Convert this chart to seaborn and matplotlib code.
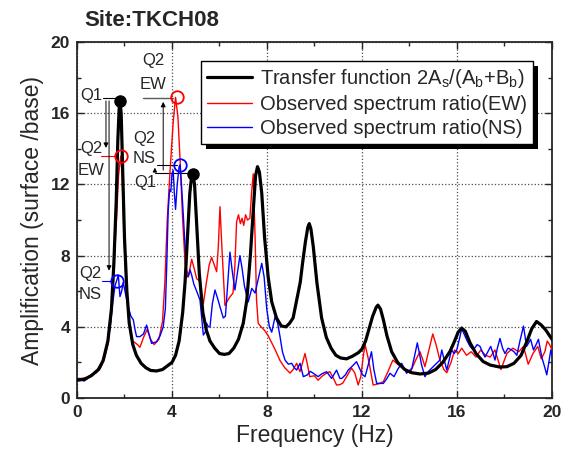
import numpy as np
import pandas as pd
import matplotlib
matplotlib.use('Agg')
import matplotlib.pyplot as plt
import seaborn as sns
from matplotlib.ticker import MultipleLocator
from matplotlib.patches import Rectangle

# transfer function 2As/(Ab+Bb)
tf_freq = [0.0, 0.3, 0.6, 0.9, 1.1, 1.3, 1.45, 1.55, 1.65, 1.72, 1.78, 1.81, 1.86, 1.92, 2.0, 2.1,
           2.2, 2.35, 2.5, 2.7, 2.9, 3.1, 3.35, 3.6, 3.8, 4.0, 4.15, 4.3, 4.45, 4.55, 4.65, 4.75,
           4.83, 4.88, 4.95, 5.05, 5.15, 5.3, 5.45, 5.6, 5.8, 6.0, 6.2, 6.4, 6.6, 6.8, 7.0, 7.15,
           7.3, 7.42, 7.52, 7.6, 7.68, 7.78, 7.9, 8.05, 8.2, 8.4, 8.6, 8.8, 8.95, 9.1, 9.25, 9.4,
           9.5, 9.62, 9.72, 9.78, 9.85, 9.95, 10.1, 10.3, 10.5, 10.7, 10.9, 11.1, 11.35, 11.6,
           11.85, 12.0, 12.15, 12.3, 12.45, 12.6, 12.67, 12.78, 12.9, 13.05, 13.25, 13.5, 13.8,
           14.1, 14.44, 14.8, 15.1, 15.4, 15.7, 15.9, 16.05, 16.2, 16.35, 16.55, 16.8, 17.1, 17.4,
           17.8, 18.1, 18.4, 18.7, 18.95, 19.15, 19.35, 19.55, 19.75, 20.0]
tf_amp = [1.0, 1.05, 1.25, 1.6, 2.1, 3.2, 5.0, 7.5, 11.0, 14.5, 16.4, 16.7, 16.0, 13.0, 9.0, 6.0,
          4.2, 3.0, 2.4, 1.95, 1.7, 1.55, 1.52, 1.6, 1.8, 2.0, 2.4, 3.2, 4.8, 6.5, 9.0, 11.5,
          12.5, 12.6, 12.0, 9.5, 7.0, 4.8, 3.8, 3.2, 2.8, 2.5, 2.45, 2.5, 2.8, 3.3, 4.2, 5.5,
          8.0, 10.5, 12.5, 13.0, 12.7, 11.5, 9.0, 6.8, 5.4, 4.5, 4.05, 4.0, 4.2, 4.5, 5.5, 6.5,
          7.6, 8.8, 9.6, 9.8, 9.5, 8.5, 6.5, 4.5, 3.4, 2.8, 2.4, 2.25, 2.2, 2.35,
          2.55, 2.75, 3.2, 3.9, 4.6, 5.1, 5.22, 5.0, 4.4, 3.5, 2.6, 2.0, 1.6,
          1.42, 1.35, 1.4, 1.6, 2.0, 2.6, 3.2, 3.7, 3.93, 3.75, 3.1, 2.5, 2.05, 1.85,
          1.74, 1.76, 1.95, 2.4, 3.2, 3.9, 4.3, 4.1, 3.8, 3.3]

# observed spectrum ratio EW
ew_freq = [0.0, 0.2, 0.4, 0.6, 0.8, 1.0, 1.15, 1.3, 1.42, 1.53, 1.62, 1.67, 1.75, 1.84, 1.9, 1.97,
           2.05, 2.16, 2.3, 2.45, 2.55, 2.65, 2.8, 2.95, 3.1, 3.25, 3.45, 3.6, 3.7, 3.8, 3.92, 4.05,
           4.15, 4.25, 4.34, 4.45, 4.55, 4.69, 4.83, 4.95, 5.04, 5.15, 5.32, 5.45, 5.57, 5.67, 5.8,
           5.88, 5.95, 6.02, 6.1, 6.18, 6.23, 6.35, 6.45, 6.57, 6.65, 6.72, 6.8, 6.88, 6.95, 7.02,
           7.1, 7.18, 7.28, 7.35, 7.42, 7.5, 7.56, 7.63, 7.75, 7.9, 8.05, 8.2, 8.35, 8.55, 8.75,
           8.97, 9.1, 9.25, 9.39, 9.5, 9.6, 9.7, 9.8, 10.0, 10.15, 10.3, 10.45, 10.65, 10.8, 10.93,
           11.07, 11.2, 11.35, 11.56, 11.7, 11.84, 11.95, 12.05, 12.13, 12.25, 12.33, 12.47, 12.7,
           12.9, 13.1, 13.3, 13.5, 13.67, 13.85, 14.02, 14.25, 14.44, 14.55, 14.65, 14.8, 14.98,
           15.12, 15.28, 15.45, 15.57, 15.75, 15.9, 16.05, 16.2, 16.4, 16.6, 16.8, 17.0, 17.2,
           17.4, 17.6, 17.85, 18.1, 18.35, 18.6, 18.8, 19.0, 19.2, 19.4, 19.55, 19.7, 19.8, 19.9,
           20.0]
ew_amp = [1.1, 1.1, 1.15, 1.3, 1.4, 1.7, 2.2, 3.0, 4.3, 6.4, 9.0, 10.2, 12.5, 13.6, 12.6, 9.5,
          6.8, 4.6, 3.25, 3.1, 3.0, 2.85, 3.4, 3.85, 3.3, 3.0, 3.3, 4.3, 6.5, 10.0, 12.8, 15.5,
          16.9, 15.8, 13.4, 10.0, 7.6, 6.8, 7.8, 7.2, 6.7, 6.6, 5.3, 6.5, 7.5, 7.9, 7.4,
          7.1, 8.5, 10.75, 8.5, 6.5, 5.2, 5.5, 5.7, 5.9, 7.5, 9.9, 10.3, 9.8, 10.1, 9.7,
          10.3, 10.0, 10.1, 11.5, 12.6, 9.0, 5.5, 4.2, 4.0, 3.8, 3.5, 3.1, 2.7, 2.1, 1.7,
          1.4, 1.6, 1.95, 1.48, 2.0, 2.5, 1.9, 1.2, 1.25, 1.0, 1.2, 1.35, 1.48, 1.1, 0.73,
          0.75, 0.85, 1.2, 1.68, 1.4, 0.73, 1.2, 2.3, 3.0, 2.3, 1.76, 0.73, 0.8,
          0.92, 1.5, 2.13, 1.9, 1.76, 1.6, 1.4, 2.1, 2.6, 2.2, 1.76, 2.6, 3.6,
          3.0, 2.13, 1.6, 1.42, 2.0, 2.7, 2.5, 2.8, 2.4, 2.6, 2.3, 2.7, 2.4,
          2.3, 2.7, 1.6, 2.5, 2.8, 2.6, 2.9, 1.9, 2.5, 2.9, 2.2, 2.6, 3.2, 3.0,
          2.7]

# observed spectrum ratio NS
ns_freq = [0.0, 0.15, 0.3, 0.45, 0.6, 0.8, 0.95, 1.1, 1.25, 1.4, 1.5, 1.6, 1.67, 1.74, 1.81, 1.88,
           1.95, 2.05, 2.16, 2.27, 2.37, 2.45, 2.51, 2.65, 2.8, 2.93, 3.03, 3.14, 3.35, 3.5, 3.63,
           3.72, 3.78, 3.84, 3.9, 3.95, 4.0, 4.05, 4.1, 4.15, 4.22, 4.3, 4.34, 4.4, 4.48, 4.55,
           4.62, 4.7, 4.76, 4.83, 4.92, 5.04, 5.18, 5.25, 5.32, 5.4, 5.46, 5.53, 5.6, 5.7, 5.81,
           5.92, 6.02, 6.16, 6.25, 6.35, 6.44, 6.55, 6.65, 6.75, 6.86, 6.95, 7.05, 7.21, 7.36,
           7.5, 7.65, 7.78, 7.88, 7.99, 8.1, 8.2, 8.34, 8.45, 8.55, 8.65, 8.76, 8.9, 9.04, 9.15,
           9.25, 9.39, 9.53, 9.7, 9.82, 9.95, 10.15, 10.3, 10.51, 10.72, 10.93, 11.07, 11.15, 11.3,
           11.42, 11.6, 11.77, 11.92, 12.03, 12.13, 12.25, 12.4, 12.5, 12.62, 12.9, 13.05, 13.18,
           13.35, 13.5, 13.67, 13.88, 14.1, 14.22, 14.33, 14.42, 14.51, 14.65, 14.8, 14.93, 15.1,
           15.28, 15.36, 15.45, 15.57, 15.68, 15.77, 15.88, 15.99, 16.1, 16.2, 16.3, 16.41, 16.55,
           16.69, 16.85, 16.97, 17.1, 17.18, 17.3, 17.42, 17.52, 17.6, 17.7, 17.81, 17.92, 18.02,
           18.15, 18.3, 18.4, 18.52, 18.65, 18.8, 18.93, 19.02, 19.1, 19.22, 19.33, 19.43, 19.57,
           19.68, 19.78, 19.88, 19.95, 20.0]
ns_amp = [1.1, 1.05, 0.95, 1.1, 1.3, 1.45, 1.6, 2.1, 2.9, 4.0, 5.3, 6.3, 6.6, 6.9, 5.7, 6.0,
          6.5, 5.8, 5.1, 4.6, 4.4, 3.8, 3.45, 3.45, 3.6, 4.1, 3.6, 3.07, 3.16, 3.5, 4.0,
          5.0, 7.5, 10.5, 11.7, 11.6, 12.6, 12.8, 11.5, 10.6, 12.0, 13.0, 13.1, 12.0, 10.2, 8.5,
          6.8, 6.9, 7.2, 6.9, 6.4, 6.0, 5.5, 4.5, 3.54, 3.7, 4.2, 4.0, 4.0, 5.3, 6.07,
          5.6, 5.13, 4.5, 4.6, 6.5, 8.2, 7.0, 6.07, 7.0, 8.0, 7.3, 6.3, 5.4, 6.16,
          5.9, 6.8, 7.57, 6.8, 5.0, 4.0, 3.7, 4.57, 4.2, 3.44, 2.6, 2.13, 1.9, 1.95, 1.7,
          1.57, 1.95, 1.2, 1.3, 1.5, 1.39, 1.2, 1.35, 1.48, 1.1, 1.57, 1.1, 1.1, 1.3,
          1.57, 1.8, 2.04, 1.6, 1.3, 1.2, 1.8, 2.6, 1.6, 0.82, 0.82, 1.1, 1.39,
          1.2, 1.6, 1.95, 1.39, 1.67, 2.4, 3.1, 2.5, 1.85, 1.2, 1.5, 1.67, 1.9,
          2.13, 2.7, 2.2, 1.57, 2.2, 2.7, 2.5, 2.7, 3.3, 3.9, 3.6, 3.26, 2.9,
          2.7, 3.0, 2.9, 2.5, 2.3, 2.6, 2.9, 2.5, 2.13, 2.8, 3.35, 2.8, 2.5,
          2.8, 2.7, 2.6, 2.4, 3.2, 4.04, 2.9, 3.1, 3.3, 2.7, 3.0, 3.3, 2.3,
          1.8, 1.3, 2.1, 2.7, 2.4]

# peak markers (Q1 = transfer function, Q2 = observed)
q1_freq = [1.81, 4.88]
q1_amp = [16.7, 12.6]
q2_ew_freq = [1.84, 4.2]
q2_ew_amp = [13.6, 16.9]
q2_ns_freq = [1.67, 4.34]
q2_ns_amp = [6.6, 13.1]

sns.set_style('ticks')
plt.rcParams['font.family'] = ['Liberation Sans', 'DejaVu Sans']
plt.rcParams['mathtext.fontset'] = 'custom'
plt.rcParams['mathtext.rm'] = 'Liberation Sans'
plt.rcParams['mathtext.it'] = 'Liberation Sans'

fig = plt.figure(figsize = (5.72, 4.58), dpi = 100)
ax = fig.add_axes([0.1346, 0.131, 0.8304, 0.777])

tf = pd.DataFrame({'f': tf_freq, 'a': tf_amp})
ew = pd.DataFrame({'f': ew_freq, 'a': ew_amp})
ns = pd.DataFrame({'f': ns_freq, 'a': ns_amp})

sns.lineplot(data = tf, x = 'f', y = 'a', ax = ax, color = 'black', lw = 2.3, sort = False,
             label = r'Transfer function 2A$_\mathregular{s}$/(A$_\mathregular{b}$+B$_\mathregular{b}$)', zorder = 5)
sns.lineplot(data = ew, x = 'f', y = 'a', ax = ax, color = 'red', lw = 1.0, sort = False,
             label = 'Observed spectrum ratio(EW)', zorder = 3)
sns.lineplot(data = ns, x = 'f', y = 'a', ax = ax, color = 'blue', lw = 1.0, sort = False,
             label = 'Observed spectrum ratio(NS)', zorder = 4)

ax.plot(q1_freq, q1_amp, 'o', color = 'black', ms = 8, zorder = 6)
ax.plot(q2_ew_freq, q2_ew_amp, 'o', mfc = 'none', mec = 'red', mew = 1.3, ms = 9, zorder = 6)
ax.plot(q2_ns_freq, q2_ns_amp, 'o', mfc = 'none', mec = 'blue', mew = 1.3, ms = 9, zorder = 6)

# annotations around the first peak
fs = 12
ax.text(0.59, 17.0, 'Q1', fontsize = fs, ha = 'center', va = 'center')
ax.plot([1.1, 1.81], [16.85, 16.85], color = 'black', lw = 0.8)
ax.annotate('', xy = (1.22, 13.9), xytext = (1.22, 16.85),
            arrowprops = dict(arrowstyle = '-|>', color = 'black', lw = 0.7, mutation_scale = 7))
ax.annotate('', xy = (1.35, 7.0), xytext = (1.35, 16.85),
            arrowprops = dict(arrowstyle = '-|>', color = 'black', lw = 0.7, mutation_scale = 7))
ax.text(0.59, 14.05, 'Q2', fontsize = fs, ha = 'center', va = 'center')
ax.text(0.59, 12.8, 'EW', fontsize = fs, ha = 'center', va = 'center')
ax.plot([1.0, 1.7], [13.6, 13.6], color = 'red', lw = 0.8)
ax.text(0.55, 7.0, 'Q2', fontsize = fs, ha = 'center', va = 'center')
ax.text(0.55, 5.8, 'NS', fontsize = fs, ha = 'center', va = 'center')
ax.plot([1.05, 1.5], [6.6, 6.6], color = 'blue', lw = 0.8)

# annotations around the second peak
ax.text(3.22, 18.95, 'Q2', fontsize = fs, ha = 'center', va = 'center')
ax.text(3.22, 17.6, 'EW', fontsize = fs, ha = 'center', va = 'center')
ax.plot([2.78, 4.05], [16.87, 16.87], color = '0.35', lw = 1.0)
ax.annotate('', xy = (3.63, 16.8), xytext = (3.63, 12.65),
            arrowprops = dict(arrowstyle = '-|>', color = 'black', lw = 0.7, mutation_scale = 7))
ax.text(2.82, 14.6, 'Q2', fontsize = fs, ha = 'center', va = 'center')
ax.text(2.82, 13.45, 'NS', fontsize = fs, ha = 'center', va = 'center')
ax.plot([3.37, 4.2], [13.1, 13.1], color = 'black', lw = 0.8)
ax.annotate('', xy = (3.28, 13.1), xytext = (3.28, 12.65),
            arrowprops = dict(arrowstyle = '-|>', color = 'black', lw = 0.7, mutation_scale = 6))
ax.plot([3.28, 4.88], [12.65, 12.65], color = 'black', lw = 0.8)
ax.text(2.86, 12.1, 'Q1', fontsize = fs, ha = 'center', va = 'center')

ax.set_xlim(0, 20)
ax.set_ylim(0, 20)
ax.xaxis.set_major_locator(MultipleLocator(4))
ax.xaxis.set_minor_locator(MultipleLocator(2))
ax.yaxis.set_major_locator(MultipleLocator(4))
ax.yaxis.set_minor_locator(MultipleLocator(2))
ax.grid(True, which = 'major', linestyle = ':', color = '0.3', lw = 0.9)
ax.tick_params(which = 'both', direction = 'in', top = True, right = True, width = 1.0)
ax.tick_params(which = 'major', length = 5, labelsize = 12.5, pad = 5)
ax.tick_params(which = 'minor', length = 3)
for lab in ax.get_xticklabels() + ax.get_yticklabels():
    lab.set_fontweight('bold')
for sp in ax.spines.values():
    sp.set_linewidth(1.3)
    sp.set_visible(True)

ax.set_xlabel('Frequency (Hz)', fontsize = 16.5, labelpad = 3)
ax.set_ylabel('Amplification (surface /base)', fontsize = 16.5, labelpad = 5)
fig.text(0.147, 0.955, 'Site:TKCH08', fontsize = 16, fontweight = 'bold', ha = 'left', va = 'center')

leg = ax.legend(loc = 'upper right', bbox_to_anchor = (0.981, 0.975), fontsize = 14.5, frameon = True,
                fancybox = False, edgecolor = 'black', framealpha = 1, handlelength = 2.2,
                borderpad = 0.3, labelspacing = 0.25, handletextpad = 0.4)
leg.get_frame().set_linewidth(1.0)
leg.set_zorder(10)

# thick black drop shadow behind the legend box
fig.canvas.draw()
bb = leg.get_window_extent()
ax.add_patch(Rectangle((bb.x0 + 5, bb.y0 - 5), bb.width, bb.height, transform = None,
                       facecolor = 'black', edgecolor = 'none', zorder = 9, clip_on = False))

fig.savefig('out.png', dpi = 100)
